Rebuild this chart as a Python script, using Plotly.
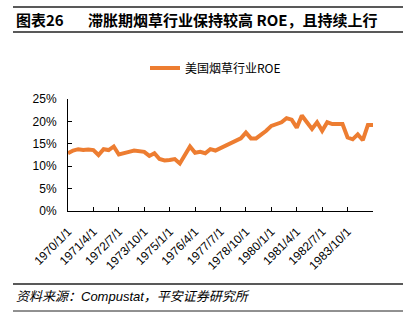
import plotly.graph_objects as go

# quarterly categories 1970Q1 .. 1985Q1
dates = [f"{y}/{m}/1" for y in range(1970, 1986) for m in (1, 4, 7, 10)][:61]

roe = [12.9, 13.5, 13.8, 13.6, 13.7, 13.6, 12.5, 13.8, 13.6, 14.4,
       12.6, 13.0, 13.2, 13.5, 13.3, 13.2, 12.3, 12.9, 11.6, 11.3,
       11.4, 11.6, 10.6, 12.5, 14.4, 13.0, 13.2, 12.9, 13.8, 13.5,
       14.0, 14.5, 15.1, 15.5, 16.2, 17.5, 16.2, 16.2, 17.0, 17.9,
       19.0, 19.4, 19.8, 20.7, 20.4, 18.6, 21.3, 19.8, 18.3, 19.8,
       17.9, 19.8, 19.4, 19.4, 19.4, 16.4, 16.0, 17.1, 15.8, 19.2,
       19.2]

y_ticks = [0, 5, 10, 15, 20, 25]
y_labels = ["0%", "5%", "10%", "15%", "20%", "25%"]

title_main = "图表26"
title_sub = "滞胀期烟草行业保持较高 ROE，且持续上行"
source_text = "资料来源：Compustat，平安证券研究所"
series_name = "美国烟草行业ROE"

W, H = 415, 322
L, R, T, B = 68, 42, 99, 111
pw, ph = W - L - R, H - T - B


def px(x):
    return (x - L) / pw


def py(y):
    return (H - B - y) / ph


x_idx = list(range(len(dates)))
tick_idx = list(range(0, len(dates), 5))
tick_txt = [dates[i] if i < 56 else "" for i in tick_idx]

fig = go.Figure()
fig.add_trace(go.Scatter(x=x_idx, y=roe, mode="lines", name=series_name,
                         line=dict(color="#ED7D31", width=4)))

font = "Liberation Sans, Arial, Noto Sans CJK SC"
fig.update_layout(
    width=W, height=H,
    margin=dict(l=L, r=R, t=T, b=B),
    paper_bgcolor="white", plot_bgcolor="white",
    font=dict(family=font, size=12, color="#000"),
    showlegend=True,
    legend=dict(orientation="h", x=px(145), y=py(68), xanchor="left", yanchor="middle",
                font=dict(size=12, family="Noto Sans CJK SC, Liberation Sans"),
                bgcolor="rgba(0,0,0,0)"),
    xaxis=dict(range=[0, len(dates) - 1], tickmode="array", tickvals=tick_idx, ticktext=tick_txt,
               tickangle=-45, ticks="inside", ticklen=4, tickcolor="#000",
               ticklabelstandoff=8,
               showline=True, linecolor="#000", linewidth=1, showgrid=False, zeroline=False,
               tickfont=dict(size=12)),
    yaxis=dict(range=[0, 25], tickmode="array", tickvals=y_ticks, ticktext=y_labels,
               ticks="inside", ticklen=4, tickcolor="#000",
               ticklabelstandoff=8,
               showline=True, linecolor="#000", linewidth=1, showgrid=False, zeroline=False,
               tickfont=dict(size=12)),
)

# header/footer rules
for yy, w in [(7, 1.5), (32, 1.5), (284, 1.5), (311, 1)]:
    fig.add_shape(type="line", xref="paper", yref="paper", x0=px(13), x1=px(403),
                  y0=py(yy), y1=py(yy), line=dict(color="#222", width=w))

tfont = dict(family="Noto Sans CJK SC, Liberation Sans", size=15, color="#000")
fig.add_annotation(xref="paper", yref="paper", x=px(14), y=py(19), xanchor="left", yanchor="middle",
                   text="<b>" + title_main + "</b>", showarrow=False, font=tfont)
fig.add_annotation(xref="paper", yref="paper", x=px(86), y=py(19), xanchor="left", yanchor="middle",
                   text="<b>" + title_sub + "</b>", showarrow=False, font=tfont)
fig.add_annotation(xref="paper", yref="paper", x=px(14), y=py(296), xanchor="left", yanchor="middle",
                   text="<i>" + source_text + "</i>", showarrow=False,
                   font=dict(family="Liberation Sans, Noto Sans CJK SC", size=13, color="#000"))

fig.write_html("out.html")
